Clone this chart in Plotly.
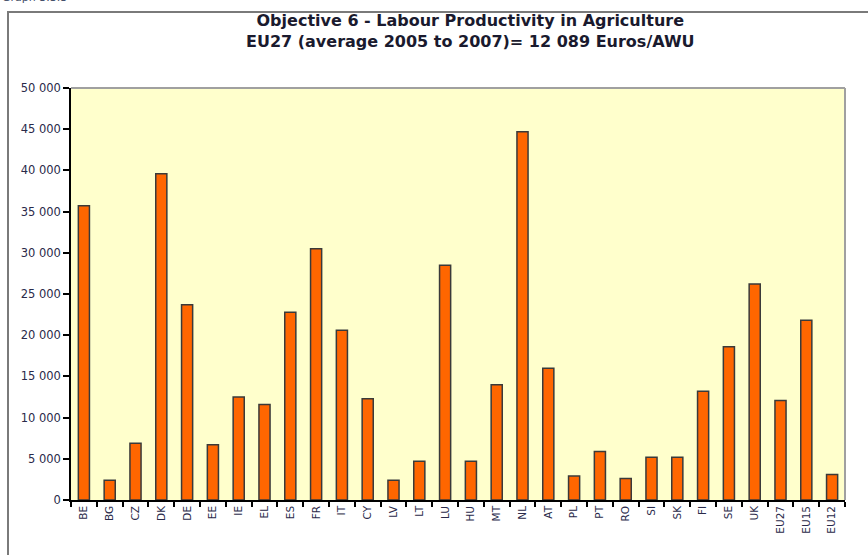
import plotly.graph_objects as go

# Labour productivity in agriculture, average 2005-2007 (Euros/AWU)
countries = ['BE', 'BG', 'CZ', 'DK', 'DE', 'EE', 'IE', 'EL', 'ES', 'FR',
             'IT', 'CY', 'LV', 'LT', 'LU', 'HU', 'MT', 'NL', 'AT', 'PL',
             'PT', 'RO', 'SI', 'SK', 'FI', 'SE', 'UK', 'EU27', 'EU15', 'EU12']
productivity = [35700, 2400, 6900, 39600, 23700, 6700, 12500, 11600, 22800, 30500,
                20600, 12300, 2400, 4700, 28500, 4700, 14000, 44700, 16000, 2900,
                5900, 2600, 5200, 5200, 13200, 18600, 26200, 12089, 21800, 3100]
y_ticks = [0, 5000, 10000, 15000, 20000, 25000, 30000, 35000, 40000, 45000, 50000]

FONT = 'DejaVu Sans, Liberation Sans, Arial, sans-serif'
TEXT = '#2a2a4a'

fig = go.Figure()
fig.add_trace(go.Bar(
    x=countries, y=productivity,
    marker=dict(color='#FF6600', line=dict(color='#3a3a3a', width=1.5)),
    showlegend=False,
    hoverinfo='x+y'
))

# plot area in pixels: x 71..845, y 88..500
W, H = 868, 555
L, R, T, B = 71, 23, 88, 55
pw, ph = W - L - R, H - T - B

def px_x(x):
    return (x - L) / pw

def px_y(y):
    return (H - B - y) / ph

fig.update_layout(
    width=W, height=H,
    margin=dict(l=L, r=R, t=T, b=B),
    paper_bgcolor='white',
    plot_bgcolor='#FFFFCC',
    bargap=0.57,
    separators='. ',
    font=dict(family=FONT, color=TEXT, size=10),
)

fig.update_xaxes(
    type='category',
    tickson='boundaries',
    ticks='outside', ticklen=5, tickcolor='black', tickwidth=1.5,
    tickangle=-90,
    tickfont=dict(size=10.5, color=TEXT),
    showline=True, linecolor='black', linewidth=1.5,
    showgrid=False,
    mirror=False,
)
fig.update_yaxes(
    range=[0, 50000],
    tickvals=y_ticks, tickformat=',d',
    ticks='outside', ticklen=6, tickcolor='black', tickwidth=1.5,
    tickfont=dict(size=11.5, color=TEXT),
    showline=True, linecolor='black', linewidth=1.5,
    showgrid=False, zeroline=False,
)

# gray border on top and right of plot area
fig.add_shape(type='line', xref='paper', yref='paper', x0=0, x1=1, y0=1, y1=1,
              line=dict(color='#a0a0a0', width=2))
fig.add_shape(type='line', xref='paper', yref='paper', x0=1, x1=1, y0=0, y1=1,
              line=dict(color='#a0a0a0', width=2))

# outer chart frame (extends beyond the visible page)
fig.add_shape(type='rect', xref='paper', yref='paper',
              x0=px_x(8), x1=px_x(900), y0=px_y(600), y1=px_y(12),
              line=dict(color='#7a7a7a', width=2), fillcolor='rgba(0,0,0,0)', layer='below')

fig.add_annotation(
    xref='paper', yref='paper', x=px_x(470), y=px_y(31),
    text='<b>Objective 6 - Labour Productivity in Agriculture<br>'
         'EU27 (average 2005 to 2007)= 12 089 Euros/AWU</b>',
    showarrow=False, xanchor='center', yanchor='middle',
    font=dict(family=FONT, size=16, color='#1a1a2e'), align='center'
)
fig.add_annotation(
    xref='paper', yref='paper', x=px_x(0), y=px_y(-3),
    text='Graph 3.3.3', showarrow=False, xanchor='left', yanchor='middle',
    font=dict(family=FONT, size=11, color='#44506a')
)

fig.write_html('out.html', config={'displayModeBar': False},
               post_script="document.body.style.margin='0';")
